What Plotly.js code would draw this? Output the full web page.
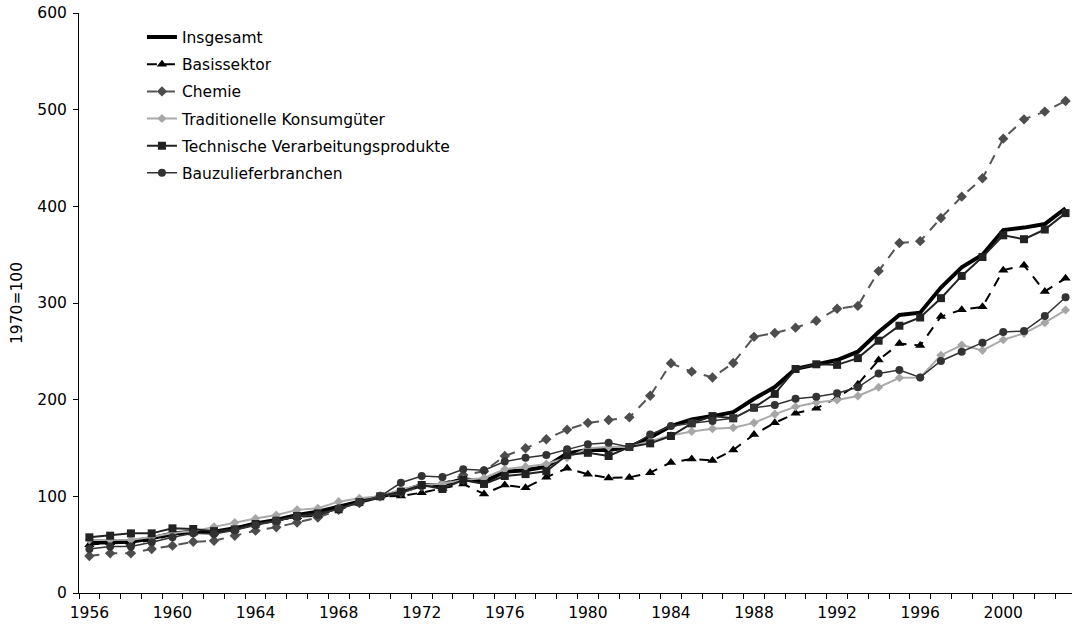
<!DOCTYPE html>
<html>
<head>
<meta charset="utf-8">
<script src="https://cdn.plot.ly/plotly-3.0.1.min.js"></script>
<style>html,body{margin:0;padding:0;background:#fff}#chart{width:1072px;height:631px}</style>
</head>
<body>
<div id="chart"></div>
<script>
var years = [];
for (var y = 1956; y <= 2003; y++) years.push(y);

var insgesamt = [52,53,53,56.6,61.7,63.4,63.4,66.9,72,75.5,80.7,84,89,95,100,104.8,111.7,111.7,118,115,125.5,127,130.7,144.5,148,148,151,161,172.7,179.6,183,187,201,213,232,236,241,249.6,270,287.6,290,316,337,350,375.5,378,381.7,398];
var basissektor = [50,52,51,55,60,62,62,66,72,75,79,80,88,95,100,100.3,103.8,108,112.8,102.4,111.7,109,119.7,129,122.8,119,119.6,124.5,135,138.6,137,148,164,176,186,191,202,216,241,258,256,286,293,296,334,339,312,325.5];
var chemie = [38.3,41,41,45.5,49,53,54,59.3,64.5,68,73,78,86,93,100,104,110,113,122,126,141.7,149.7,159,169,176,179,181.7,204,237.6,229,223,238,265,269,274.5,281.7,294,297,333,362,364,388,410,429,470,490,498,509];
var konsumgueter = [54.8,55,55,58,62,64,68.6,73,77,80.7,86,87.6,94.5,98,100,107,112,113,117,119,128,130.7,133.4,140,149.7,151,151,157,163,167,170,171,176,185,192.7,197,199.6,203.8,212.8,222.7,223,246,256.5,251,262,268.6,279.6,292.7];
var technische = [57.6,59.3,61.7,61.7,66.9,66.2,64,65.9,71.4,74.8,79.7,82.4,86.6,94,100,104.8,111.7,107.6,117,112.8,121,123,126,142.8,145,141.7,151,154.8,162.4,175.5,183,180.7,191.7,206,231.7,236.6,236,243,261,276.5,285,305,328,347.6,370,366,376,393];
var bau = [45.5,48,48,52.4,57.6,61.7,61,65,70,74.8,79,80.7,87.6,94,100,114,121,120,128,127,136,140,142.8,148.6,154,155.5,151,164,172.7,175.5,178,180.7,191.7,194.5,201,203,206.6,212.8,227,230.7,223,240,249.6,259,270,271,286.5,306];

var xTickVals = [1956,1960,1964,1968,1972,1976,1980,1984,1988,1992,1996,2000];
var xTickText = ['1956','1960','1964','1968','1972','1976','1980','1984','1988','1992','1996','2000'];
var yTickVals = [0,100,200,300,400,500,600];

var traces = [
  {name:'Insgesamt', legendgroup:'g1', x:years, y:insgesamt, mode:'lines', line:{color:'#000', width:4}},
  {name:'Basissektor', legendgroup:'g2', x:years, y:basissektor, mode:'lines+markers', line:{color:'#000', width:2, dash:'10px,8px'}, marker:{symbol:'triangle-up', size:9, color:'#000'}},
  {name:'Chemie', legendgroup:'g3', x:years, y:chemie, mode:'lines+markers', line:{color:'#555', width:2, dash:'10px,8px'}, marker:{symbol:'diamond', size:8, color:'#4d4d4d'}},
  {name:'Traditionelle Konsumgüter', legendgroup:'g4', x:years, y:konsumgueter, mode:'lines+markers', line:{color:'#aaa', width:2}, marker:{symbol:'diamond', size:7, color:'#a6a6a6'}},
  {name:'Technische Verarbeitungsprodukte', legendgroup:'g5', x:years, y:technische, mode:'lines+markers', line:{color:'#222', width:2}, marker:{symbol:'square', size:8, color:'#222'}},
  {name:'Bauzulieferbranchen', legendgroup:'g6', x:years, y:bau, mode:'lines+markers', line:{color:'#333', width:1.5}, marker:{symbol:'circle', size:8, color:'#333'}}
];

var layout = {
  width:1072, height:631,
  margin:{l:79, r:0, t:13, b:38, pad:0},
  paper_bgcolor:'#fff', plot_bgcolor:'#fff',
  font:{family:'"DejaVu Sans", sans-serif', size:15.5, color:'#000'},
  showlegend:true,
  legend:{x:0.0634, y:0.987, xanchor:'left', yanchor:'top', bgcolor:'rgba(0,0,0,0)', font:{size:15.5}, traceorder:'grouped', tracegroupgap:4},
  xaxis:{
    range:[1955.5, 2003.31], showgrid:false, zeroline:false,
    showline:true, linecolor:'#000', linewidth:1,
    tickmode:'array', tickvals:xTickVals, ticktext:xTickText, ticks:'',
    ticklabelstandoff:5,
    tickfont:{size:15.5},
    minor:{tickmode:'linear', tick0:1955.5, dtick:1, ticks:'outside', ticklen:5, tickcolor:'#000', tickwidth:1, showgrid:false}
  },
  yaxis:{
    range:[0,600], showgrid:false, zeroline:false,
    showline:true, linecolor:'#000', linewidth:1,
    tickmode:'array', tickvals:yTickVals, ticks:'outside', ticklen:5, tickcolor:'#000',
    ticklabelstandoff:3,
    tickfont:{size:15.5},
    title:{text:'1970=100', font:{size:15.5}, standoff:10}
  }
};

Plotly.newPlot('chart', traces, layout, {displayModeBar:false, staticPlot:true});
</script>
</body>
</html>
